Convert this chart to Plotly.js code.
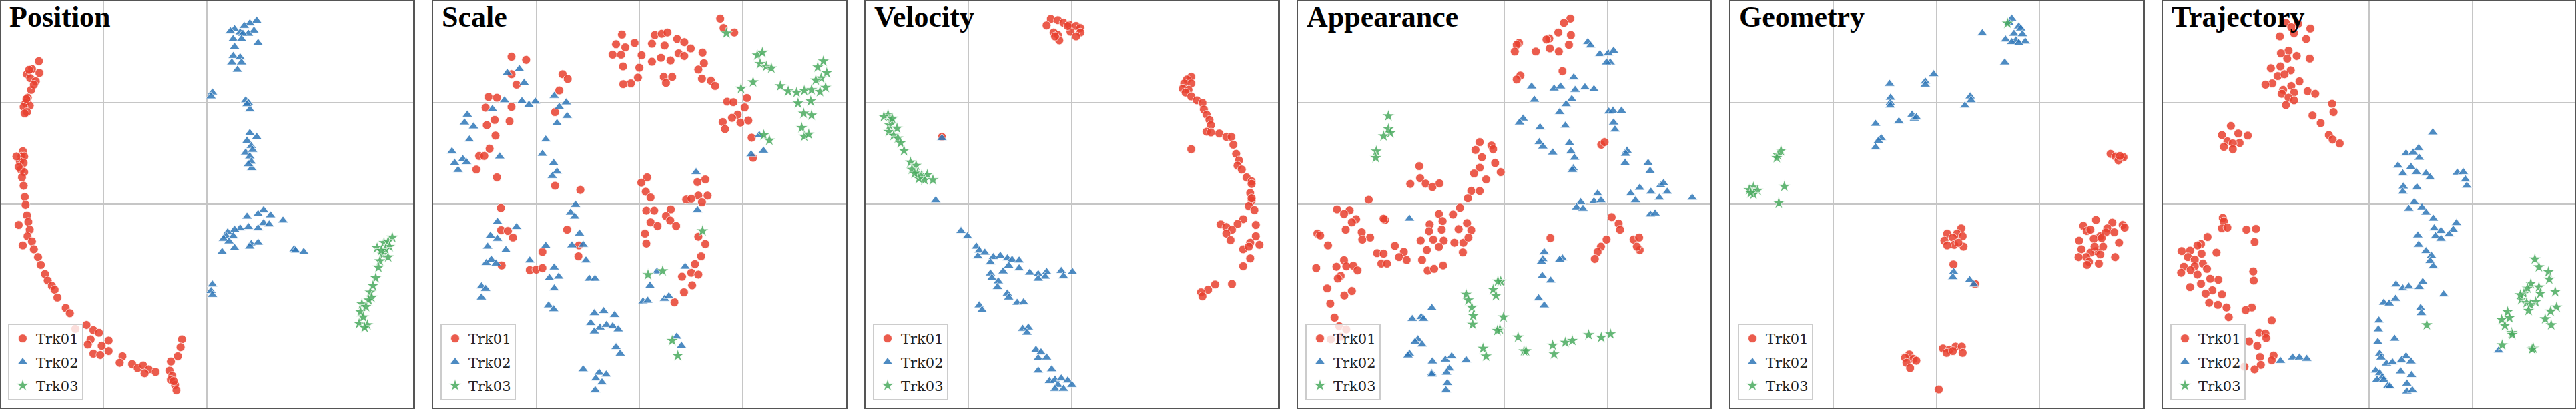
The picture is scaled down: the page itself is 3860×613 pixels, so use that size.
<!DOCTYPE html>
<html>
<head>
<meta charset="utf-8">
<script src="https://cdn.plot.ly/plotly-3.0.1.min.js"></script>
<style>html,body{margin:0;padding:0;background:#fff;}#chart{width:3860px;height:613px;}</style>
</head>
<body>
<div id="chart"></div>
<script>
// ---- panel titles and series names ----
const panelTitles = ["Position", "Scale", "Velocity", "Appearance", "Geometry", "Trajectory"];
const seriesNames = ["Trk01", "Trk02", "Trk03"];

// ---- embedding coordinates: [x, y] (y grows downward) ----
const position_trk01 = [[143,235],[118,265],[100,285],[145,280],[112,300],[132,312],[115,345],[103,375],[95,395],[110,405],[88,410],[100,430],[92,435],[108,268],[125,325],[98,380],
[85,580],[80,600],[90,600],[75,620],[88,625],[78,650],[90,660],[82,680],[88,712],[92,755],[95,785],[100,825],[105,850],[70,862],[110,880],[102,905],[118,925],[85,940],[125,955],[140,985],[150,1015],[165,1050],[175,1075],[190,1095],[200,1110],[210,1140],[240,1180],[255,1200],[275,1260],[315,1245],[340,1265],[360,1275],[330,1300],[320,1320],[370,1325],[395,1305],[395,1345],[340,1355],[365,1360],[445,1365],[435,1390],[480,1395],[500,1410],[520,1400],[540,1415],[525,1430],[565,1425],[620,1385],[615,1420],[625,1440],[620,1455],[635,1475],[640,1495],[660,1300],[655,1330],[645,1365],[630,1460],[62,600],[70,640]];
const position_trk02 = [[930,80],[905,90],[885,100],[850,112],[835,120],[870,125],[920,118],[900,130],[880,130],[845,150],[875,150],[935,165],[850,180],[845,215],[870,220],[840,240],[875,240],[860,268],
[770,355],[765,370],[890,385],[900,395],[905,420],[895,400],
[905,510],[930,525],[895,540],[910,560],[890,585],[915,575],[905,600],[910,620],[912,645],[900,630],
[955,805],[935,820],[980,825],[895,830],[1025,845],[955,855],[975,860],[900,870],[870,875],[850,880],[935,875],[825,890],[820,905],[810,915],[845,905],[830,925],[910,935],[935,930],[850,950],[805,965],[905,945],[1065,955],[1070,960],[1100,965],
[770,1090],[765,1115],[770,1130]];
const position_trk03 = [[1420,910],[1390,930],[1405,925],[1365,950],[1410,945],[1385,975],[1405,985],[1375,1000],[1370,1025],[1360,1065],[1350,1095],[1340,1120],[1345,1140],[1335,1150],[1310,1165],[1325,1175],[1305,1195],[1315,1215],[1300,1240],[1330,1245],[1320,1255],[1395,955],[1380,960]];

const scale_trk01 = [[1043,72],[1055,108],[1093,125],
[693,133],[810,135],[835,130],[855,125],[890,150],[915,162],[672,170],[705,182],[738,165],[800,168],[845,175],[938,186],[660,210],[690,210],[763,212],[832,222],[866,232],[895,205],[915,215],[980,202],[800,237],[697,255],[755,260],[985,243],[965,267],[750,298],[725,320],[698,323],[842,295],[872,295],[850,318],[978,302],[1010,310],[1025,330],
[300,218],[352,230],[300,285],[318,325],[482,285],[500,303],[470,347],[218,372],[248,375],[300,410],[208,413],[455,430],[240,460],[293,465],[212,480],[243,520],[222,570],[185,598],[203,598],[175,650],[248,680],[455,712],[545,728],
[1068,390],[1090,392],[1138,376],[1130,412],[1105,440],[1085,452],[1052,468],[1115,470],[1143,462],[1060,495],[1155,528],[1160,605],
[783,680],[762,700],[778,735],[795,757],[990,688],[962,698],[965,750],[998,750],[922,765],[940,762],[978,775],[780,807],[808,807],[867,802],[850,828],[865,845],[795,852],[820,866],[886,866],[775,895],[780,933],[965,907],[990,935],[975,982],[953,1012],[940,1045],[965,1052],[907,1060],[943,1093],[914,1120],[880,1158],
[262,797],[263,882],[287,885],[305,910],[498,880],[540,940],[538,982],[410,965],[365,1035],[388,1033],[410,1027],[265,1017]];
const scale_trk02 = [[285,280],[328,265],[345,318],[275,385],[337,388],[385,390],[362,402],[232,418],[143,440],[133,470],[165,485],[150,535],[88,580],[98,625],[127,610],[140,622],[110,652],[258,600],[452,368],[495,393],[470,410],[498,445],[462,472],[422,535],[410,590],[450,625],[462,658],[445,675],[957,660],[962,805],[528,785],[510,815],[525,830],[250,850],[318,870],[225,903],[250,915],[542,895],[215,945],[280,958],[515,940],[555,938],[422,942],[210,1008],[228,995],[245,1010],[365,998],[565,998],[452,1025],[435,1065],[468,1060],[577,1068],[597,1068],[452,1105],[193,1097],[208,1107],[193,1140],[918,1022],[818,1040],[793,1095],[768,1155],[785,1152],[845,1145],[860,1135],[432,1170],[450,1185],[595,1200],[628,1192],[667,1207],[582,1238],[615,1255],[638,1245],[660,1250],[680,1262],[595,1270],[672,1330],[687,1355],[555,1415],[612,1428],[637,1435],[600,1450],[622,1465],[598,1495],[888,1290],[905,1325],[1182,518],[1153,592],[1197,578]];
const scale_trk03 = [[1065,128],[1175,212],[1193,202],[1185,245],[1207,255],[1225,262],[1160,315],[1117,340],[1410,235],[1390,258],[1422,280],[1402,300],[1383,308],[1257,330],[1285,350],[1315,355],[1342,348],[1368,345],[1398,352],[1418,336],[1320,396],[1365,388],[1340,435],[1368,442],[1333,490],[1342,523],[1358,515],[1198,518],[1218,538],[980,885],[786,1053],[838,1038],[872,1305],[892,1363]];

const velocity_trk01 = [[675,73],[700,78],[720,88],[740,95],[660,98],[765,100],[780,108],[685,125],[700,135],[745,122],[780,125],[765,140],[705,155],[690,140],[735,100],
[1175,295],[1160,305],[1150,320],[1175,320],[1145,340],[1165,345],[1155,355],[1175,370],[1195,385],[1215,395],[1220,420],[1230,440],[1240,460],[1245,480],[1230,505],[1245,508],[1275,512],[1300,525],[1318,525],[1325,555],[1335,590],[1345,615],[1340,635],[1355,650],[1372,680],[1390,695],[1390,705],[1385,740],[1390,770],[1380,790],[1400,805],[1360,840],[1340,858],[1280,860],[1300,870],[1320,880],[1300,895],[1315,920],[1405,862],[1405,905],[1385,930],[1418,938],[1360,955],[1380,945],[1385,990],[1360,1020],[1320,1088],[1260,1090],[1235,1110],[1210,1120],[1215,1135],[1175,572],[1390,760],[287,525]];
const velocity_trk02 = [[287,530],[265,768],[355,885],[378,905],[410,945],[420,960],[440,968],[415,982],[470,985],[495,980],[520,990],[537,995],[562,998],[460,1005],[525,1018],[562,1028],[505,1040],[460,1048],[465,1065],[600,1045],[630,1050],[660,1042],[655,1060],[630,1068],[712,1038],[752,1042],[720,1058],[488,1078],[485,1100],[520,1125],[525,1140],[555,1160],[578,1158],[420,1170],[430,1188],[575,1260],[595,1255],[590,1275],[622,1340],[640,1350],[630,1372],[660,1370],[630,1420],[678,1415],[670,1460],[690,1455],[712,1450],[735,1458],[750,1475],[700,1475],[690,1490],[720,1490]];
const velocity_trk03 = [[95,440],[80,448],[105,462],[100,480],[127,492],[98,505],[115,520],[130,530],[140,548],[152,578],[175,622],[195,635],[180,650],[200,665],[215,672],[235,670],[225,690],[255,690],[205,685],[190,665],[110,455]];

const appearance_trk01 = [[1003,72],[980,88],[960,125],[1005,135],[928,148],[918,152],[820,165],[812,172],[998,172],[805,198],[880,198],[930,186],[962,198],[975,273],[825,290],[812,305],
[680,545],[722,558],[728,572],[665,575],[688,603],[735,625],[680,643],[660,665],[755,660],[703,688],[465,637],[468,683],[433,705],[488,704],[512,717],[537,703],[650,732],[680,732],[638,760],[610,796],[285,766],[172,802],[217,806],[197,820],[240,840],[225,852],[343,843],[338,838],[535,820],[585,822],[548,847],[502,860],[635,855],[545,880],[500,886],[605,878],[650,882],[203,880],[260,890],[290,910],[262,918],[102,895],[112,902],[140,940],[470,922],[515,918],[552,922],[590,930],[622,930],[640,910],[378,942],[492,958],[535,946],[620,967],[410,965],[315,970],[338,972],[393,985],[420,996],[475,996],[330,1010],[350,1010],[197,997],[170,1022],[205,1020],[230,1018],[245,1036],[98,1027],[550,1017],[495,1037],[518,1030],[185,1057],[175,1067],[137,1105],[225,1115],[198,1132],[148,1163],[163,1217],[180,1250],[205,1262],[185,1290],[150,1300],
[1150,832],[1175,857],[1180,880],[1132,918],[1112,945],[1100,965],[1090,992],[1228,918],[1248,910],[1250,958],[1240,945],[932,912],[1113,555],[1125,545]];
const appearance_trk02 = [[1065,162],[1075,175],[1108,208],[1138,205],[1157,195],[1145,240],[1132,240],[1015,297],[865,332],[945,340],[968,332],[1020,345],[1055,335],[1087,342],[875,383],[1008,380],[988,400],[965,430],[1140,428],[1155,425],[1185,425],[835,455],[822,470],[895,488],[985,482],[1157,470],[1162,497],[892,545],[905,562],[940,585],[1000,548],[1005,580],[1018,605],[1013,645],[1010,652],[1205,578],[1200,590],[1198,625],[1280,625],[1287,655],[1250,720],[1218,742],[1235,768],[1290,735],[1320,758],[1325,710],[1335,702],[1348,735],[1437,758],[1100,742],[1087,772],[1112,768],[1040,775],[1025,795],[1048,800],[1288,822],[1305,818],[430,838],[910,966],[905,993],[900,1003],[975,990],[965,995],[903,1057],[933,1075],[890,1143],[910,1170],[510,1180],[440,1222],[472,1215],[480,1222],[460,1300],[450,1310],[475,1320],[430,1355],[425,1362],[512,1385],[510,1430],[558,1378],[580,1365],[632,1380],[572,1412],[562,1428],[510,1435],[565,1468],[560,1495]];
const appearance_trk03 = [[355,445],[355,495],[362,510],[338,522],[312,580],[310,605],[755,1078],[745,1078],[728,1110],[738,1133],[632,1128],[640,1150],[652,1178],[657,1210],[655,1243],[765,1215],[752,1262],[743,1267],[817,1292],[692,1335],[703,1365],[838,1345],[845,1345],[940,1323],[945,1357],[985,1312],[1010,1305],[1068,1283],[1113,1293],[1146,1280]];

const geometry_trk01 = [[1382,590],[1400,600],[1420,605],[1428,603],[1410,615],[1415,598],
[1330,843],[1388,853],[1285,865],[1425,862],[1297,885],[1432,872],[1370,875],[1310,880],[1345,905],[1365,890],[1395,890],[1270,922],[1322,915],[1350,912],[1412,930],[1278,955],[1355,945],[1330,962],[1310,968],[1295,985],[1345,975],[1268,985],[1398,985],[1305,1003],[1340,1010],[1298,1015],[1325,945],
[850,875],[800,895],[835,895],[820,910],[790,922],[855,905],[825,938],[858,945],[800,940],[840,930],[822,1013],[900,1088],
[665,1358],[650,1370],[680,1375],[655,1390],[668,1410],[690,1382],[785,1335],[808,1340],[830,1328],[852,1328],[855,1352],[798,1352],[820,1345],[770,1492]];
const geometry_trk02 = [[1030,72],[1020,88],[1055,102],[1062,110],[925,128],[1038,130],[1008,152],[1045,155],[1078,160],[1068,132],[1030,162],[1055,165],[1005,240],[752,285],[722,313],[722,325],[595,322],[598,375],[597,395],[597,405],[882,370],[885,385],[863,405],[675,440],[683,455],[690,450],[628,465],[545,475],[565,530],[555,540],[545,565],[823,1042],[820,1062],[880,1073],[895,1090]];
const geometry_trk03 = [[1015,90],[208,578],[197,595],[193,605],[110,718],[95,728],[125,730],[110,745],[100,740],[220,715],[200,778]];

const trajectory_trk01 = [[500,88],[545,92],[520,105],[590,110],[478,140],[530,128],[575,150],[510,195],[482,205],[540,215],[588,225],[505,225],[480,255],[445,262],[518,270],[470,292],[495,285],[550,312],[450,320],[425,325],[520,330],[490,345],[530,355],[580,350],[608,360],[485,360],[510,375],[530,385],[500,403],[670,398],[675,430],[598,443],[628,472],[658,518],[672,535],[698,550],
[298,483],[265,518],[325,512],[360,520],[285,542],[330,548],[305,550],[272,563],[305,572],
[268,835],[272,848],[265,875],[285,872],[355,880],[390,877],[385,927],[212,908],[188,935],[175,940],[117,962],[148,960],[140,985],[190,972],[245,968],[165,995],[195,1010],[125,1022],[165,1020],[210,1030],[115,1045],[150,1035],[175,1052],[222,1068],[252,1072],[188,1087],[148,1100],[380,1040],[382,1075],[230,1112],[205,1125],[265,1128],[218,1160],[250,1168],[282,1178],[375,1178],[352,1188],[290,1215],[448,1228],[402,1275],[425,1278],[428,1295],[395,1325],[365,1308],[405,1368],[455,1362],[448,1380],[408,1398],[385,1415],[348,1405]];
const trajectory_trk02 = [[1040,508],[988,568],[942,588],[968,585],[990,605],[912,635],[960,640],[930,665],[980,660],[1015,665],[1030,680],[1130,662],[1152,660],[1160,688],[1165,712],[932,715],[930,735],[982,718],[972,775],[952,800],[1000,795],[1015,815],[1042,838],[1127,855],[1045,875],[1115,880],[1070,885],[1100,898],[985,902],[1050,905],[1070,915],[988,938],[1015,962],[1035,980],[1030,1000],[1042,1020],[905,1090],[930,1105],[952,1098],[990,1100],[1003,1080],[1080,1128],[860,1160],[880,1163],[903,1145],[995,1180],[998,1200],[842,1228],[840,1262],[900,1298],[838,1310],[845,1355],[850,1370],[942,1365],[960,1385],[925,1380],[870,1393],[892,1388],[830,1420],[845,1430],[855,1445],[835,1455],[860,1455],[922,1423],[962,1437],[875,1478],[882,1480],[945,1470],[945,1500],[965,1495],[480,1383],[525,1370],[550,1370],[577,1375],[1282,1343]];
const trajectory_trk03 = [[1415,993],[1430,1023],[1465,1042],[1468,1070],[1400,1087],[1388,1105],[1430,1100],[1490,1118],[1375,1125],[1435,1125],[1365,1148],[1385,1160],[1418,1157],[1398,1168],[1495,1177],[1392,1190],[1473,1193],[1315,1195],[1293,1225],[1322,1218],[1305,1248],[1453,1222],[1475,1245],[1330,1275],[1332,1282],[1295,1322],[1410,1335],[1405,1338],[1018,1245],[1362,1130]];

// ---- per-panel embedding extents (axis ranges) ----
const panelXRange = [[5,1495],[21,1489],[15,1484],[33,1502],[28,1497],[48,1564]];
const panelYRange = [1562, 3];

const panelData = [
  [position_trk01, position_trk02, position_trk03],
  [scale_trk01, scale_trk02, scale_trk03],
  [velocity_trk01, velocity_trk02, velocity_trk03],
  [appearance_trk01, appearance_trk02, appearance_trk03],
  [geometry_trk01, geometry_trk02, geometry_trk03],
  [trajectory_trk01, trajectory_trk02, trajectory_trk03]
];

// ---- styling ----
const W = 3860, H = 613;
const seriesColors = ["#e8402f", "#2f77b8", "#4aab5f"];
const seriesSymbols = ["circle", "triangle-up", "star"];
const seriesSizes = [13, 13.5, 14];
const panelW = 618, panelPitch = 648, panelLeft0 = 1;
const yDom = [(H - 611) / H, (H - 1) / H];

const traces = [];
const layout = {
  width: W, height: H,
  margin: {l: 0, r: 0, t: 0, b: 0, pad: 0},
  paper_bgcolor: "#ffffff", plot_bgcolor: "#ffffff",
  showlegend: true,
  annotations: []
};

panelData.forEach((series, p) => {
  const n = p + 1;
  const xa = "xaxis" + (n === 1 ? "" : n), ya = "yaxis" + (n === 1 ? "" : n);
  const xr = "x" + (n === 1 ? "" : n), yr = "y" + (n === 1 ? "" : n);
  const lg = "legend" + (n === 1 ? "" : n);
  const left = panelLeft0 + p * panelPitch;
  const xR = panelXRange[p];
  layout[xa] = {
    domain: [left / W, (left + panelW) / W], anchor: yr,
    range: xR, tick0: xR[0], dtick: (xR[1] - xR[0]) / 4,
    showgrid: true, gridcolor: "#c6c6c6", gridwidth: 1.5,
    zeroline: false, showticklabels: false, ticks: "",
    showline: true, mirror: true, linecolor: "#555555", linewidth: 2.5,
    fixedrange: true
  };
  layout[ya] = {
    domain: yDom, anchor: xr,
    range: panelYRange, tick0: panelYRange[1], dtick: (panelYRange[0] - panelYRange[1]) / 4,
    showgrid: true, gridcolor: "#c6c6c6", gridwidth: 1.5,
    zeroline: false, showticklabels: false, ticks: "",
    showline: true, mirror: true, linecolor: "#555555", linewidth: 2.5,
    fixedrange: true
  };
  layout[lg] = {
    x: (left + 11) / W, xanchor: "left", xref: "paper",
    y: (H - 600) / H, yanchor: "bottom", yref: "paper",
    bgcolor: "rgba(255,255,255,0.8)", bordercolor: "#cccccc", borderwidth: 2,
    font: {family: "DejaVu Serif", size: 21, color: "#222222"},
    traceorder: "grouped", tracegroupgap: 5
  };
  series.forEach((pts, s) => {
    traces.push({
      type: "scatter", mode: "markers",
      x: pts.map(d => d[0]), y: pts.map(d => d[1]),
      xaxis: xr, yaxis: yr,
      name: seriesNames[s], legend: lg, legendgroup: "g" + p + "_" + s,
      marker: {color: seriesColors[s], symbol: seriesSymbols[s], size: seriesSizes[s],
               opacity: 0.85, line: {color: "#ffffff", width: 0.8}},
      hoverinfo: "skip"
    });
  });
  layout.annotations.push({
    text: "<b>" + panelTitles[p] + "</b>",
    xref: xr + " domain", yref: yr + " domain",
    x: 0.018, y: 1, xanchor: "left", yanchor: "top", yshift: 2,
    showarrow: false,
    font: {family: "Liberation Serif", size: 44, color: "#000000"}
  });
});

Plotly.newPlot("chart", traces, layout, {staticPlot: true, displayModeBar: false});
</script>
</body>
</html>
